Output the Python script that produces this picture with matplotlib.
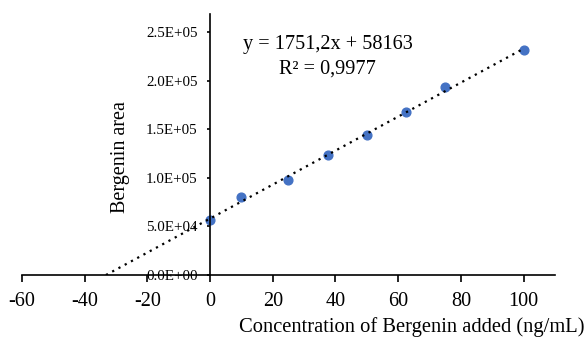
import numpy as np
import matplotlib
matplotlib.use("Agg")
import matplotlib.pyplot as plt
from matplotlib.ticker import FuncFormatter

plt.rcParams['font.family'] = ['Liberation Serif', 'DejaVu Serif']

# data
conc = [0, 10, 25, 37.5, 50, 62.5, 75, 100]
area = [56800, 79900, 98100, 124000, 144600, 167700, 193900, 231400]
slope = 1751.2
intercept = 58163
r2 = "0,9977"
xticks = [-60, -40, -20, 0, 20, 40, 60, 80, 100]
yticks = [0, 50000, 100000, 150000, 200000, 250000]


def sci(v, pos):
    if v == 0:
        return "0.0E+00"
    e = int(np.floor(np.log10(v)))
    return "%.1fE+%02d" % (v / 10**e, e)


fig = plt.figure(figsize=(5.86, 3.41), dpi=100)
ax = fig.add_axes([0.0375, 0.1935, 0.9095, 0.7655])

# trendline from x-intercept to last point
x0 = -intercept / slope
xt = np.array([x0, max(conc)])
ax.plot(xt, slope * xt + intercept, color='black', linestyle=(0, (1, 2.2)),
        linewidth=1.6, zorder=3)
ax.plot(conc, area, 'o', color='#4472C4', markersize=6.3, zorder=2)

ax.set_xlim(-60, 110)
ax.set_ylim(0, 269000)

ax.spines['left'].set_position(('data', 0))
ax.spines['bottom'].set_position(('data', 0))
ax.spines['top'].set_visible(False)
ax.spines['right'].set_visible(False)
ax.spines['left'].set_linewidth(1.2)
ax.spines['bottom'].set_linewidth(1.2)

ax.set_xticks(xticks)
ax.set_xticklabels([str(t) for t in xticks])
ax.set_yticks(yticks)
ax.yaxis.set_major_formatter(FuncFormatter(sci))
ax.tick_params(axis='x', direction='out', length=5, width=1.2, labelsize=14.6, pad=7)
ax.tick_params(axis='y', direction='out', length=2.5, width=1.2, labelsize=10.8, pad=6.5)

fig.text(0.205, 0.54, "Bergenin area", rotation=90, fontsize=14.5,
         ha='center', va='center')
fig.text(0.998, 0.041, "Concentration of Bergenin added (ng/mL)", fontsize=14.8,
         ha='right', va='center')

ax.text(0.574, 0.885, "y = 1751,2x + 58163", transform=ax.transAxes,
        fontsize=14.6, ha='center', va='center')
ax.text(0.574, 0.79, "R² = " + r2, transform=ax.transAxes,
        fontsize=14.6, ha='center', va='center')

fig.savefig("out.png", dpi=100)
